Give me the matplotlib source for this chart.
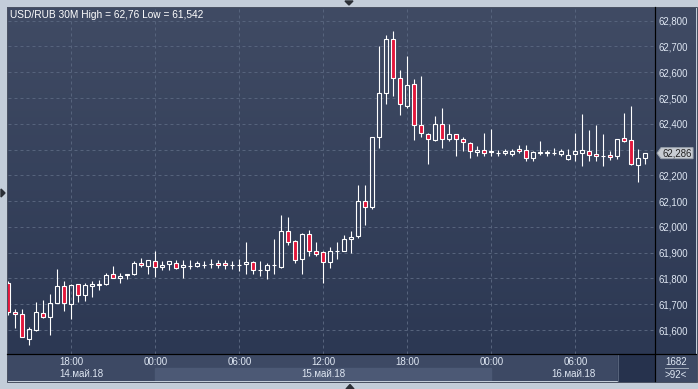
import matplotlib

matplotlib.use("Agg")
import matplotlib.pyplot as plt
import numpy as np
from matplotlib.colors import LinearSegmentedColormap
from matplotlib.patches import Rectangle, Polygon
import matplotlib.transforms as mtransforms

plt.rcParams.update({"font.family": ["Liberation Sans", "DejaVu Sans"]})

W, H = 698, 389
PX = 72 / 100  # one pixel in points

# 30M candles, USD/RUB, 14.05 13:30 .. 16.05 11:00
opens = [61.784, 61.669, 61.661, 61.567, 61.600, 61.665, 61.652, 61.703, 61.770, 61.700,
         61.778, 61.735, 61.770, 61.775, 61.778, 61.817, 61.800, 61.812, 61.816, 61.860,
         61.848, 61.868, 61.844, 61.856, 61.860, 61.844, 61.849, 61.848, 61.851, 61.855,
         61.860, 61.860, 61.852, 61.851, 61.856, 61.865, 61.833, 61.833, 61.853, 61.846,
         61.984, 61.945, 61.874, 61.974, 61.905, 61.901, 61.862, 61.907, 61.905, 61.953,
         61.963, 62.102, 62.076, 62.350, 62.521, 62.728, 62.576, 62.470, 62.553, 62.397,
         62.362, 62.337, 62.401, 62.342, 62.362, 62.342, 62.327, 62.292, 62.300, 62.290,
         62.287, 62.288, 62.284, 62.303, 62.300, 62.267, 62.288, 62.288, 62.285, 62.284,
         62.263, 62.284, 62.288, 62.296, 62.284, 62.275, 62.280, 62.275, 62.346, 62.339,
         62.240, 62.267]
highs = [61.790, 61.682, 61.683, 61.613, 61.709, 61.717, 61.740, 61.838, 61.791, 61.778,
         61.778, 61.782, 61.791, 61.794, 61.821, 61.848, 61.821, 61.816, 61.869, 61.881,
         61.872, 61.908, 61.869, 61.868, 61.872, 61.872, 61.872, 61.868, 61.868, 61.875,
         61.872, 61.872, 61.868, 61.874, 61.943, 61.869, 61.869, 61.861, 61.955, 62.048,
         62.040, 61.949, 61.975, 61.987, 61.940, 61.905, 61.921, 61.940, 61.967, 61.983,
         62.162, 62.162, 62.350, 62.702, 62.744, 62.760, 62.607, 62.663, 62.572, 62.584,
         62.366, 62.432, 62.463, 62.401, 62.362, 62.350, 62.331, 62.315, 62.366, 62.379,
         62.300, 62.303, 62.303, 62.316, 62.316, 62.296, 62.333, 62.300, 62.307, 62.303,
         62.303, 62.364, 62.437, 62.375, 62.394, 62.359, 62.296, 62.342, 62.443, 62.468,
         62.303, 62.288]
lows = [61.660, 61.609, 61.572, 61.542, 61.598, 61.647, 61.581, 61.703, 61.672, 61.644,
        61.709, 61.714, 61.730, 61.755, 61.773, 61.800, 61.781, 61.796, 61.812, 61.843,
        61.817, 61.804, 61.831, 61.831, 61.837, 61.800, 61.837, 61.844, 61.840, 61.840,
        61.840, 61.837, 61.837, 61.828, 61.818, 61.816, 61.811, 61.799, 61.818, 61.842,
        61.928, 61.861, 61.818, 61.886, 61.886, 61.781, 61.842, 61.877, 61.905, 61.897,
        61.956, 62.006, 62.070, 62.306, 62.477, 62.506, 62.433, 62.462, 62.337, 62.350,
        62.244, 62.332, 62.306, 62.333, 62.275, 62.294, 62.267, 62.275, 62.276, 62.275,
        62.275, 62.279, 62.275, 62.286, 62.257, 62.257, 62.279, 62.275, 62.279, 62.275,
        62.259, 62.257, 62.236, 62.257, 62.255, 62.236, 62.259, 62.264, 62.331, 62.240,
        62.174, 62.244]
closes = [61.668, 61.661, 61.572, 61.603, 61.669, 61.652, 61.704, 61.770, 61.703, 61.774,
          61.735, 61.774, 61.779, 61.777, 61.813, 61.800, 61.809, 61.816, 61.860, 61.851,
          61.872, 61.844, 61.852, 61.868, 61.840, 61.852, 61.850, 61.860, 61.852, 61.856,
          61.852, 61.852, 61.853, 61.852, 61.865, 61.831, 61.832, 61.852, 61.854, 61.984,
          61.940, 61.873, 61.971, 61.905, 61.895, 61.862, 61.908, 61.908, 61.955, 61.961,
          62.102, 62.078, 62.350, 62.518, 62.728, 62.576, 62.475, 62.549, 62.397, 62.366,
          62.341, 62.401, 62.342, 62.362, 62.342, 62.331, 62.296, 62.300, 62.288, 62.293,
          62.288, 62.296, 62.296, 62.296, 62.267, 62.290, 62.289, 62.289, 62.286, 62.293,
          62.277, 62.293, 62.300, 62.279, 62.275, 62.274, 62.271, 62.342, 62.335, 62.244,
          62.269, 62.286]

price_ticks = [61.6, 61.7, 61.8, 61.9, 62.0, 62.1, 62.2, 62.3, 62.4, 62.5, 62.6, 62.7, 62.8]
time_ticks = [9, 21, 33, 45, 57, 69, 81]
time_labels = ["18:00", "00:00", "06:00", "12:00", "18:00", "00:00", "06:00"]
day_bounds = [0, 21, 69, 92.39]
day_labels = ["14.май.18", "15.май.18", "16.май.18"]
last_price = 62.286
title = "USD/RUB 30M High = 62,76 Low = 61,542"

BORDER = "#c3cdd9"
TXT = "#dfe7f3"
GRID = "#56637c"
RED = "#e3173c"
XLIM = (0, 92.39)
YLIM = (61.507, 62.853)


def box(x0, y0, x1, y1):
    return [x0 / W, 1 - y1 / H, (x1 - x0) / W, (y1 - y0) / H]


fig = plt.figure(figsize=(W / 100, H / 100), dpi=100, facecolor=BORDER)

# dark gradient background behind plot + price scale
bg = fig.add_axes(box(7, 7, 696, 354))
bg.axis("off")
cmap = LinearSegmentedColormap.from_list("bg", ["#404b64", "#2c3853"])
bg.imshow(np.linspace(0, 1, 256)[:, None], aspect="auto", cmap=cmap,
          extent=[0, 1, 0, 1])

# bottom time panel
bot = fig.add_axes(box(7, 354, 696, 381))
bot.set_xlim(0, 1)
bot.set_ylim(0, 1)
bot.axis("off")
bot.add_patch(Rectangle((0, 0), 1, 1, color="#3d4964"))

ax = fig.add_axes(box(8.3, 7, 655, 354))
ax.set_facecolor("none")
ax.set_xlim(*XLIM)
ax.set_ylim(*YLIM)
for s in ax.spines.values():
    s.set_visible(False)

for p in price_ticks:
    ax.axhline(p, color=GRID, lw=PX, ls=(0, (3, 3)), zorder=1)
for t in time_ticks:
    ax.axvline(t, color=GRID, lw=PX, ls=(0, (3, 3)), zorder=1)

bw = 0.62
for i, (o, h, l, c) in enumerate(zip(opens, highs, lows, closes)):
    top, bottom = max(o, c), min(o, c)
    ax.vlines(i, top, h, color="white", lw=PX * 1.1, zorder=3)
    ax.vlines(i, l, bottom, color="white", lw=PX * 1.1, zorder=3)
    fc = RED if c < o else "none"
    ax.add_patch(Rectangle((i - bw / 2, bottom), bw, max(top - bottom, 0.0005),
                           facecolor=fc, edgecolor="white", lw=PX * 1.1, zorder=4))

# the 62,300 label sits under the current price tag, so it is left blank
tick_text = [f"{p:.3f}".replace(".", ",") for p in price_ticks]
tick_text = ["" if abs(p - last_price) < 0.03 else s for p, s in zip(price_ticks, tick_text)]
ax.yaxis.tick_right()
ax.set_yticks(price_ticks, tick_text)
ax.tick_params(axis="y", length=0, pad=2.5, labelsize=6.9, labelcolor=TXT)
ax.set_xticks([])

ax.text(2 / 646, 1 - 8 / 347, title, transform=ax.transAxes, fontsize=7.3,
        color="white", va="center", ha="left")

# current price tag
tr = mtransforms.blended_transform_factory(ax.transAxes, ax.transData)
dy = 5.5 * (YLIM[1] - YLIM[0]) / 347
x0 = 1 + 2 / 646
tag = Polygon([(x0, last_price), (x0 + 4 / 646, last_price + dy),
               (x0 + 36 / 646, last_price + dy), (x0 + 36 / 646, last_price - dy),
               (x0 + 4 / 646, last_price - dy)], closed=True, transform=tr,
              facecolor="#c9cdd3", edgecolor="#9aa2ad", lw=PX, clip_on=False, zorder=6)
ax.add_patch(tag)
ax.text(x0 + 5 / 646, last_price, f"{last_price:.3f}".replace(".", ","), transform=tr,
        fontsize=6.9, color="#222222", va="center", ha="left", zorder=7, clip_on=False)

# time axis labels and day bands
tb = mtransforms.blended_transform_factory(ax.transData, bot.transAxes)
for k in range(len(day_labels)):
    a, b = day_bounds[k], day_bounds[k + 1]
    if k % 2 == 1:
        bot.add_patch(Rectangle((a, 0), b - a, 0.5, transform=tb, color="#4c5975"))
    bot.text((a + b) / 2, 0.27, day_labels[k], transform=tb, fontsize=7,
             color=TXT, ha="center", va="center")
for t, lab in zip(time_ticks, time_labels):
    bot.text(t, 0.71, lab, transform=tb, fontsize=7, color=TXT,
             ha="center", va="center")

# overlay in pixel coordinates for chrome
ov = fig.add_axes([0, 0, 1, 1], zorder=10)
ov.set_xlim(0, W)
ov.set_ylim(H, 0)
ov.axis("off")
ov.add_patch(Rectangle((618, 354), 37, 27, color="#26324d"))
ov.plot([617.5, 617.5], [355, 381], color="#56627a", lw=PX)
ov.plot([655, 655], [7, 381], color="black", lw=PX * 1.2)
ov.plot([7, 696], [354, 354], color="black", lw=PX * 1.2)
ov.add_patch(Rectangle((655.5, 354.5), 40.5, 26.5, color="#3d4964"))
ov.text(676, 362, "1682", fontsize=7, color=TXT, ha="center", va="center")
ov.plot([665, 688], [368, 368], color="#9aa4b4", lw=PX)
ov.text(676, 375, ">92<", fontsize=7, color=TXT, ha="center", va="center")
ov.add_patch(Rectangle((6.5, 6.5), 690, 375, fill=False, edgecolor="#4a5263", lw=PX))
ov.add_patch(Polygon([(345, 1), (353, 1), (349, 5)], color="#2b2f36"))
ov.add_patch(Polygon([(1, 189), (1, 197), (5, 193)], color="#2b2f36"))
ov.add_patch(Polygon([(346, 389), (354, 389), (350, 384.5)], color="#2b2f36"))

fig.savefig("out.png", dpi=100, facecolor=fig.get_facecolor())
